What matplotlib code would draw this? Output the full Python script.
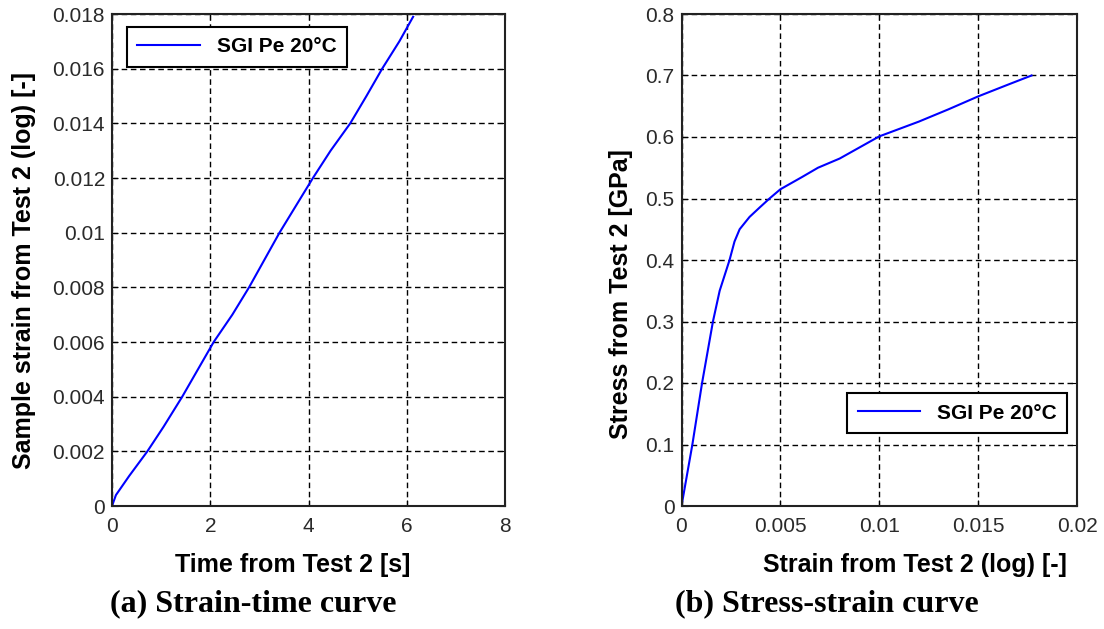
import numpy as np
import matplotlib.pyplot as plt

plt.rcParams['font.family'] = ['Liberation Sans', 'DejaVu Sans']

# strain-time curve (test 2)
time_s = [0.0, 0.08, 0.35, 0.72, 1.05, 1.43, 1.75, 2.07, 2.45, 2.79, 3.10, 3.41, 3.75, 4.09, 4.45, 4.85, 5.18, 5.50, 5.85, 6.13]
strain_t = [0.0, 0.0004, 0.0011, 0.0020, 0.0029, 0.0040, 0.0050, 0.0060, 0.0070, 0.0080, 0.0090,
            0.0100, 0.0110, 0.0120, 0.0130, 0.0140, 0.0150, 0.0160, 0.0170, 0.0179]

# stress-strain curve (test 2)
strain = [0.0, 0.00055, 0.00104, 0.00159, 0.00193, 0.00243, 0.00268, 0.00294, 0.00344, 0.00394, 0.00445,
          0.0050, 0.0061, 0.0069, 0.0080, 0.0090, 0.0100, 0.0110, 0.0120, 0.0135, 0.0150, 0.0165, 0.0177]
stress = [0.0, 0.10, 0.20, 0.30, 0.35, 0.40, 0.43, 0.45, 0.47, 0.485, 0.50,
          0.515, 0.535, 0.550, 0.565, 0.583, 0.601, 0.613, 0.625, 0.645, 0.666, 0.685, 0.700]

label = 'SGI Pe 20°C'
W, H = 1104, 629


def style_axes(ax):
    ax.grid(True, color='black', linestyle=(0, (4, 2.6)), linewidth=1.0)
    ax.tick_params(direction='in', top=True, right=True, length=4, labelsize=15,
                   labelcolor='#2a2a2a')
    ax.tick_params(axis='x', pad=8)
    ax.tick_params(axis='y', pad=5)
    for s in ax.spines.values():
        s.set_linewidth(1.5)
        s.set_color('#222222')


def add_legend(ax, loc, anchor):
    leg = ax.legend(loc=loc, bbox_to_anchor=anchor, borderaxespad=0, fancybox=False,
                    edgecolor='black', handlelength=3.0, borderpad=0.5,
                    framealpha=1, prop={'weight': 'bold', 'size': 15})
    leg.get_frame().set_linewidth(1.5)
    return leg


def place_labels(ax, xpos, ypos):
    ax.xaxis.set_label_coords(*xpos)
    ax.yaxis.set_label_coords(*ypos)
    ax.xaxis.label.set_va('center')
    ax.yaxis.label.set_va('center')


fig = plt.figure(figsize=(W / 100, H / 100), dpi=100)

# (a) strain vs time
ax1 = fig.add_axes([112 / W, 123 / H, 393 / W, 492 / H])
ax1.plot(time_s, strain_t, color='#0000ff', lw=1.5, label=label)
ax1.set_xlim(0, 8)
ax1.set_ylim(0, 0.018)
ax1.set_xticks(np.arange(0, 9, 2))
ax1.set_yticks(np.arange(0, 0.0181, 0.002))
ax1.set_yticklabels(['0', '0.002', '0.004', '0.006', '0.008', '0.01', '0.012', '0.014', '0.016', '0.018'])
style_axes(ax1)
ax1.set_xlabel('Time from Test 2 [s]', fontsize=18, fontweight='bold')
ax1.set_ylabel('Sample strain from Test 2 (log) [-]', fontsize=18, fontweight='bold')
place_labels(ax1, (0.46, -0.12), (-0.225, 0.478))
add_legend(ax1, 'upper left', (0.038, 0.974))

# (b) stress vs strain
ax2 = fig.add_axes([681.5 / W, 123 / H, 395.5 / W, 492 / H])
ax2.plot(strain, stress, color='#0000ff', lw=1.5, label=label)
ax2.set_xlim(0, 0.02)
ax2.set_ylim(0, 0.8)
ax2.set_xticks([0, 0.005, 0.01, 0.015, 0.02])
ax2.set_xticklabels(['0', '0.005', '0.01', '0.015', '0.02'])
ax2.set_yticks(np.arange(0, 0.81, 0.1))
ax2.set_yticklabels(['0', '0.1', '0.2', '0.3', '0.4', '0.5', '0.6', '0.7', '0.8'])
style_axes(ax2)
ax2.set_xlabel('Strain from Test 2 (log) [-]', fontsize=18, fontweight='bold')
ax2.set_ylabel('Stress from Test 2 [GPa]', fontsize=18, fontweight='bold')
place_labels(ax2, (0.59, -0.12), (-0.154, 0.431))
add_legend(ax2, 'lower right', (0.975, 0.148))

# captions
fig.text(253 / W, 1 - 604 / H, '(a) Strain-time curve', ha='center', va='center',
         family='Liberation Serif', fontweight='bold', fontsize=23)
fig.text(827 / W, 1 - 604 / H, '(b) Stress-strain curve', ha='center', va='center',
         family='Liberation Serif', fontweight='bold', fontsize=23)

fig.savefig('out.png', dpi=100)
